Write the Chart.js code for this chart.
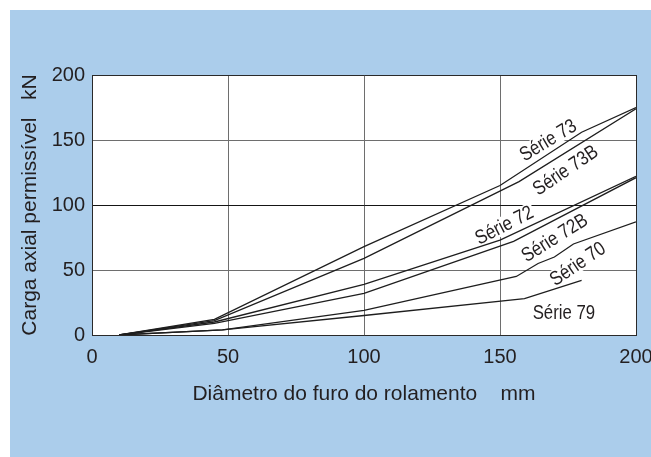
<!DOCTYPE html>
<html>
<head>
<meta charset="utf-8">
<script src="https://cdn.jsdelivr.net/npm/chart.js@4.4.1/dist/chart.umd.min.js"></script>
<style>
  html, body { margin: 0; padding: 0; background: #fff; }
</style>
</head>
<body>
<canvas id="myChart" width="651" height="457"></canvas>
<script>
// leituras do gráfico (diâmetro mm -> carga kN)
var diam73 = [10, 45, 100, 150, 180, 200];
var carga73 = [0, 12, 68, 115, 156, 175];

var diam73B = [10, 45, 100, 157, 200];
var carga73B = [0, 11, 59, 118, 174];

var diam72 = [10, 45, 100, 150, 200];
var carga72 = [0, 10, 39, 73, 122];

var diam72B = [10, 45, 100, 155, 200];
var carga72B = [0, 9, 32, 72, 121];

var diam70 = [10, 48, 100, 156, 164, 170, 177, 200];
var carga70 = [0, 4, 19, 45, 55, 60, 70, 87];

var diam79 = [10, 48, 100, 159, 180];
var carga79 = [0, 4, 15, 28, 42];

var xTicks = [0, 50, 100, 150, 200];
var yTicks = [0, 50, 100, 150, 200];

// rótulos das curvas
var nomesSerie = ["Série 73", "Série 73B", "Série 72", "Série 72B", "Série 70", "Série 79"];
var rotuloDiam = [167.6, 174, 151.5, 170, 178.5, 173.5];
var rotuloCarga = [150, 127, 84.6, 75, 55, 17.7];
var rotuloAngulo = [31, 34, 27, 32, 34, 0];

function pts(xs, ys) {
  return xs.map(function (x, i) { return { x: x, y: ys[i] }; });
}

function serie(xs, ys) {
  return {
    data: pts(xs, ys),
    showLine: true,
    borderColor: "#1e1e1e",
    borderWidth: 1.3,
    pointRadius: 0,
    tension: 0
  };
}

var fundo = {
  id: "fundo",
  beforeDraw: function (chart) {
    var c = chart.ctx;
    var a = chart.chartArea;
    c.save();
    c.fillStyle = "#ffffff";
    c.fillRect(0, 0, chart.width, chart.height);
    c.fillStyle = "#abcdeb";
    c.fillRect(10, 10, chart.width - 10, chart.height - 10);
    c.fillStyle = "#ffffff";
    c.fillRect(a.left, a.top, a.right - a.left, a.bottom - a.top);
    c.restore();
  }
};

// texto estreito (tipo Arial Narrow) com escala horizontal
var rotulos = {
  id: "rotulos",
  beforeDatasetsDraw: function (chart) {
    var c = chart.ctx;
    var sx = chart.scales.x, sy = chart.scales.y;
    c.save();
    c.font = "20px 'Liberation Sans', Arial, sans-serif";
    c.textAlign = "center";
    c.textBaseline = "middle";
    for (var i = 0; i < nomesSerie.length; i++) {
      var px = sx.getPixelForValue(rotuloDiam[i]);
      var py = sy.getPixelForValue(rotuloCarga[i]);
      var w = c.measureText(nomesSerie[i]).width * 0.84;
      c.save();
      c.translate(px, py);
      c.rotate(-rotuloAngulo[i] * Math.PI / 180);
      c.fillStyle = "#ffffff";
      c.fillRect(-w / 2 - 2, -9, w + 4, 18);
      c.scale(0.84, 1);
      c.fillStyle = "#231f20";
      c.fillText(nomesSerie[i], 0, 1);
      c.restore();
    }
    c.restore();
  }
};

function corGrade(ctx) {
  var v = ctx.tick ? ctx.tick.value : null;
  if (v === 0 || v === 200) return "#2a2a2a";
  return "#6e6e6e";
}

var tickFont = { family: "'Liberation Sans', Arial, sans-serif", size: 20 };
var titleFont = { family: "'Liberation Sans', Arial, sans-serif", size: 21 };

var ctx = document.getElementById("myChart");
var myChart = new Chart(ctx, {
  type: "scatter",
  data: {
    datasets: [
      serie(diam73, carga73),
      serie(diam73B, carga73B),
      serie(diam72, carga72),
      serie(diam72B, carga72B),
      serie(diam70, carga70),
      serie(diam79, carga79)
    ]
  },
  options: {
    responsive: false,
    animation: false,
    layout: { padding: { top: 75, right: 15, bottom: 0, left: 0 } },
    plugins: {
      legend: { display: false },
      tooltip: { enabled: false }
    },
    scales: {
      x: {
        type: "linear",
        min: 0,
        max: 200,
        afterBuildTicks: function (s) { s.ticks = xTicks.map(function (v) { return { value: v }; }); },
        afterFit: function (s) { s.height = 122; s.paddingLeft = 0; s.paddingRight = 0; },
        grid: { color: corGrade, lineWidth: 1, drawTicks: false },
        border: { color: "#2a2a2a", width: 1 },
        ticks: { color: "#231f20", font: tickFont, padding: 10, maxRotation: 0, autoSkip: false },
        title: {
          display: true,
          text: "Diâmetro do furo do rolamento    mm",
          color: "#231f20",
          font: titleFont,
          padding: { top: 0, bottom: 50 }
        }
      },
      y: {
        min: 0,
        max: 200,
        afterBuildTicks: function (s) { s.ticks = yTicks.map(function (v) { return { value: v }; }); },
        afterFit: function (s) { s.width = 92; s.paddingTop = 0; s.paddingBottom = 0; },
        grid: {
          color: function (c) { return c.tick && c.tick.value === 100 ? "#151515" : corGrade(c); },
          lineWidth: 1,
          drawTicks: false
        },
        border: { color: "#2a2a2a", width: 1 },
        ticks: { color: "#231f20", font: tickFont, padding: 7, autoSkip: false },
        title: {
          display: true,
          text: "Carga axial permissível   kN",
          color: "#231f20",
          font: titleFont,
          padding: { top: 18, bottom: 0 }
        }
      }
    }
  },
  plugins: [fundo, rotulos]
});
</script>
</body>
</html>
